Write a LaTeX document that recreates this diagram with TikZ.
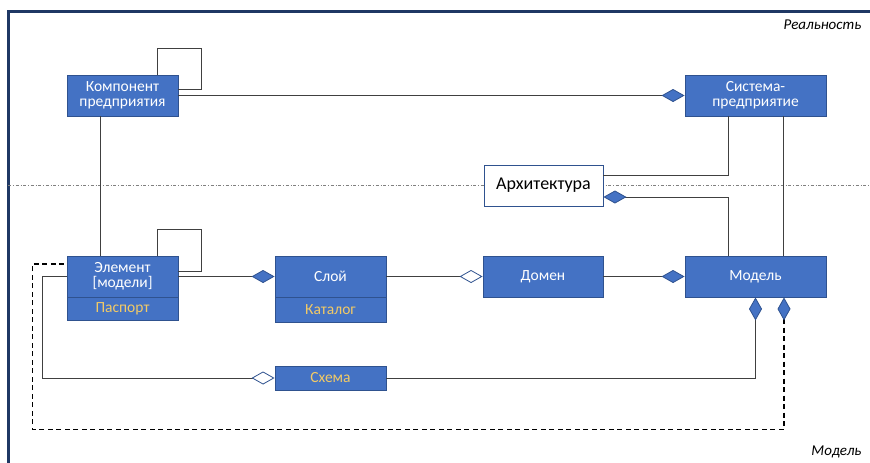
\documentclass[tikz,border=0pt]{standalone}
\usepackage{fontspec}
\setmainfont{Carlito}
\usetikzlibrary{arrows.meta, positioning}
\definecolor{myblue}{rgb}{0.267,0.447,0.769}
\definecolor{myborder}{rgb}{0.184,0.322,0.561}
\definecolor{myyellow}{rgb}{0.949,0.792,0.400}
\definecolor{mynavy}{rgb}{0.122,0.220,0.392}
\definecolor{mygray}{gray}{0.25}

\tikzset{
  comp/.tip={Diamond[length=23pt, width=13pt, fill=myblue, color=myborder, line width=0.8pt]},
  aggr/.tip={Diamond[length=23pt, width=13pt, fill=white, color=myborder, line width=0.8pt]},
  cls/.style={draw=myborder, line width=0.9pt, fill=myblue, text=white, inner sep=0pt,
    minimum width=111pt, minimum height=41pt, align=center, font=\fontsize{15.5}{15}\selectfont},
  attr/.style={cls, text=myyellow, minimum height=24pt},
  link/.style={mygray, line width=1pt},
}

\begin{document}
\begin{tikzpicture}[x=1pt, y=-1pt]
    \useasboundingbox (0,0) rectangle (870,463);
    % frame and level line
    \draw[mynavy, line width=3pt] (8,463) -- (8,11) -- (871,11);
    \draw[gray, line width=0.5pt, dash dot] (8,185) -- (870,185);
    \node[anchor=east, font=\fontsize{15}{15}\selectfont\itshape] (real) at (865,25) {Реальность};
    \node[anchor=east, font=\fontsize{15}{15}\selectfont\itshape] (modlev) at (865,452) {Модель};
    % classes
    \node[cls] (komp) at (122.5,95.5) {Компонент\\предприятия};
    \node[cls, minimum width=141pt] (sist) at (755.5,95.5) {Система-\\предприятие};
    \node[cls, fill=white, text=black, minimum width=119pt, font=\fontsize{18}{18}\selectfont] (arch) at (543.5,185.5) {Архитектура};
    \node[cls] (elem) at (122.5,276.5) {Элемент\\{[}модели{]}};
    \node[attr, minimum height=23pt] (pasp) at (122.5,308.5) {Паспорт};
    \node[cls] (sloy) at (330.5,276.5) {Слой};
    \node[attr, minimum height=25pt] (katal) at (330.5,309.5) {Каталог};
    \node[cls, minimum width=120pt] (domen) at (543,276.5) {Домен};
    \node[cls, minimum width=141pt] (model) at (755.5,276.5) {Модель};
    \node[attr] (schema) at (330.5,378) {Схема};
    % links
    \draw[link, -comp] (komp.east) -- (sist.west);
    \draw[link] ([xshift=-21pt]komp.north east) |- ([xshift=23pt, yshift=26pt]komp.north east) |- ([yshift=6.5pt]komp.east);
    \draw[link] ([xshift=-22.5pt]komp.south) -- ([xshift=-22.5pt]elem.north);
    \draw[link] ([xshift=-21pt]elem.north east) |- ([xshift=23pt, yshift=26pt]elem.north east) |- ([yshift=5.5pt]elem.east);
    \draw[link, -comp] (elem.east) -- (sloy.west);
    \draw[link, -aggr] (sloy.east) -- (domen.west);
    \draw[link, -comp] (domen.east) -- (model.west);
    \draw[link] ([xshift=-27.5pt]sist.south) |- ([yshift=10.5pt]arch.east);
    \draw[link, -comp] ([xshift=-27.5pt]model.north) |- ([yshift=-11.5pt]arch.east);
    \draw[link] ([xshift=27.5pt]sist.south) -- ([xshift=27.5pt]model.north);
    \draw[link, comp-] (model.south) |- (schema.east);
    \draw[link, -aggr] (elem.west) -- ++(-24,0) |- (schema.west);
    \draw[link, black, line width=1.2pt, dash pattern=on 5pt off 3.5pt, comp-] ([xshift=28.5pt]model.south) -- ++(0,132) -| ([xshift=-34pt, yshift=12.5pt]elem.west) -- ([yshift=12.5pt]elem.west);
\end{tikzpicture}
\end{document}
